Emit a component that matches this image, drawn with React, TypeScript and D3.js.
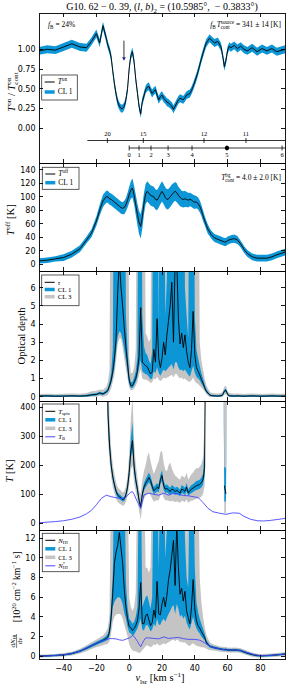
import React from "react";
import * as d3 from "d3";

const W = 287;
const H = 688;
const X0 = 39;
const X1 = 285;
const SERIF = '"Liberation Serif", "DejaVu Serif", serif';
const SANS = '"DejaVu Sans", sans-serif';
const BLUE = "#0d96d6";
const GRAY = "#c4c4c4";
const TBLUE = "#4646ff";
const NA = null;

// velocity grid, km/s
const V = [
  -55, -50, -45, -40, -35, -30, -26, -23, -20, -18, -16, -14,
  -13, -12, -11, -10, -9, -8, -7, -6, -5, -4,
  -3, -2, -1, 0, 1, 2, 3, 4, 5, 6,
  7, 8, 9, 10, 11, 12, 13, 14, 15, 16,
  17, 18, 19, 20, 21, 22, 23, 24, 25, 26,
  27, 28, 29, 30, 31, 32, 33, 34, 35, 36,
  37, 38, 39, 40, 41, 42, 43, 44, 45, 46,
  47, 48, 49, 50,
  52, 54, 56, 57, 58, 59, 60, 61, 62, 64,
  66, 68, 70, 72, 75, 78, 81, 84, 87, 90, 95,
];

// panel 1: T_on / T_on_cont
const TON = [
  0.98, 1.0, 0.99, 1.03, 1.07, 1.03, 1.02, 1.1, 1.2, 1.08, 1.3, 1.14,
  1.05, 0.99, 0.9, 0.72, 0.56, 0.43, 0.33, 0.28, 0.25, 0.25,
  0.28, 0.36, 0.5, 0.76, 0.92, 0.97, 0.84, 0.62, 0.45, 0.28,
  0.18, 0.34, 0.41, 0.49, 0.52, 0.53, 0.48, 0.44, 0.47, 0.49,
  0.42, 0.36, 0.4, 0.42, 0.38, 0.36, 0.33, 0.32, 0.3, 0.28,
  0.24, 0.28, 0.32, 0.36, 0.38, 0.37, 0.36, 0.39, 0.42, 0.43,
  0.44, 0.48, 0.53, 0.59, 0.65, 0.72, 0.8, 0.88, 0.95, 1.02,
  1.08, 1.11, 1.14, 1.12,
  1.08, 1.1, 1.03, 0.92, 0.78, 0.86, 0.99, 1.04, 1.02, 1.05,
  1.01, 1.04, 1.0, 0.98, 1.02, 0.97, 1.01, 0.98, 1.01, 0.97, 1.0,
];
const TON_ERR = 0.05;

// panel 2: T_off
const TOFF = [
  5, 6, 8, 10, 15, 23, 36, 46, 64, 80, 94, 100,
  100, 97, 96, 94, 92, 90, 88, 86, 84, 83,
  84, 88, 95, 103, 110, 113, 102, 88, 74, 62,
  56, 70, 90, 104, 108, 105, 102, 101, 100, 96,
  95, 99, 104, 108, 104, 99, 96, 97, 100, 103,
  106, 108, 106, 102, 99, 97, 96, 97, 96, 95,
  96, 95, 93, 92, 92, 90, 86, 80, 72, 65,
  58, 52, 48, 44,
  39, 37, 35, 34, 33, 33, 35, 36, 37, 38,
  36, 30, 22, 16, 11, 9, 9, 9, 11, 14, 18,
];
const TOFF_ERR = [
  4, 4, 4, 5, 5, 5, 5, 6, 7, 8, 9, 9,
  9, 9, 9, 9, 9, 9, 9, 9, 9, 9,
  10, 10, 11, 12, 13, 14, 14, 15, 16, 17,
  18, 17, 16, 15, 15, 15, 15, 15, 15, 15,
  15, 15, 15, 15, 15, 15, 15, 15, 15, 15,
  14, 14, 14, 13, 13, 12, 12, 12, 11, 11,
  10, 10, 10, 10, 9, 9, 9, 8, 8, 7,
  7, 7, 6, 6,
  6, 6, 6, 6, 6, 6, 6, 6, 6, 6,
  6, 5, 5, 5, 5, 5, 5, 5, 5, 5, 5,
];

// panel 3: optical depth
const TAU = [
  0.03, 0.04, 0.02, 0.03, 0.04, 0.03, 0.05, 0.1, 0.12, 0.2, 0.15, 0.25,
  0.35, 0.6, 0.9, 1.4, 2.1, 3.2, 5.8, 7.5, 6.0, 5.0,
  3.8, 2.7, 1.8, 0.9, 0.6, 0.6, 0.8, 1.0, 1.4, 2.2,
  4.9, 1.9, 1.8, 1.7, 1.65, 1.45, 1.25, 1.35, 2.6, 1.9,
  4.3, 2.1, 1.6, 2.1, 3.0, 2.3, 3.4, 4.2, 5.0, 6.3,
  3.0, 7.5, 7.5, 4.3, 2.9, 3.5, 2.7, 3.4, 2.5, 1.9,
  1.6, 2.6, 4.7, 2.3, 1.6, 1.4, 1.2, 0.95, 0.75, 0.5,
  0.3, 0.2, 0.1, 0.06,
  0.04, 0.03, 0.05, 0.1, 0.3, 0.35, 0.12, 0.05, 0.04, 0.03,
  0.04, 0.03, 0.02, 0.03, 0.04, 0.03, 0.02, 0.03, 0.04, 0.03, 0.03,
];
const TAU_LO1 = [
  0, 0, 0, 0, 0, 0, 0, 0.04, 0.06, 0.13, 0.08, 0.18,
  0.26, 0.48, 0.72, 1.1, 1.6, 2.5, 3.3, 3.6, 3.5, 3.1,
  2.6, 2.0, 1.35, 0.7, 0.47, 0.47, 0.62, 0.8, 1.1, 1.6,
  2.0, 1.4, 1.3, 1.25, 1.2, 1.1, 0.95, 1.0, 1.4, 1.3,
  1.6, 1.3, 1.15, 1.35, 1.5, 1.4, 1.5, 1.6, 1.7, 1.8,
  1.5, 1.9, 1.9, 1.6, 1.45, 1.5, 1.4, 1.5, 1.35, 1.2,
  1.1, 1.4, 1.7, 1.3, 1.1, 1.0, 0.9, 0.72, 0.58, 0.4,
  0.23, 0.14, 0.06, 0.02,
  0, 0, 0.01, 0.05, 0.22, 0.27, 0.07, 0.01, 0, 0,
  0, 0, 0, 0, 0, 0, 0, 0, 0, 0, 0,
];
const TAU_HI1 = [
  0.08, 0.09, 0.07, 0.08, 0.09, 0.08, 0.1, 0.16, 0.18, 0.27, 0.22, 0.35,
  0.48, 0.8, 1.3, 2.6, 20, 20, 20, 20, 20, 20,
  20, 4.5, 2.6, 1.25, 0.8, 0.8, 1.05, 1.4, 2.2, 20,
  20, 4.5, 2.8, 2.4, 2.3, 2.0, 1.8, 2.5, 20, 20,
  20, 3.8, 20, 20, 20, 4.5, 6.5, 20, 20, 20,
  20, 20, 20, 20, 20, 20, 20, 6.0, 4.5, 3.2,
  20, 20, 20, 4.5, 2.6, 2.1, 1.7, 1.3, 1.0, 0.68,
  0.42, 0.28, 0.16, 0.11,
  0.09, 0.08, 0.1, 0.16, 0.4, 0.45, 0.18, 0.1, 0.09, 0.08,
  0.09, 0.08, 0.07, 0.08, 0.09, 0.08, 0.07, 0.08, 0.09, 0.08, 0.08,
];
const TAU_LO3 = [
  -0.02, -0.02, -0.02, -0.02, -0.02, -0.02, -0.02, 0, 0, 0.03, 0, 0.05,
  0.1, 0.25, 0.45, 0.8, 1.2, 2.0, 2.9, 3.2, 3.2, 2.7,
  2.1, 1.5, 1.0, 0.5, 0.35, 0.35, 0.45, 0.6, 0.8, 1.2,
  1.5, 1.0, 0.95, 0.95, 0.9, 0.85, 0.75, 0.8, 1.0, 0.95,
  1.1, 0.95, 0.85, 0.95, 1.05, 1.0, 1.05, 1.1, 1.15, 1.2,
  1.05, 1.25, 1.25, 1.1, 1.0, 1.05, 0.95, 1.0, 0.9, 0.85,
  0.8, 0.9, 1.05, 0.85, 0.75, 0.7, 0.6, 0.5, 0.4, 0.28,
  0.15, 0.05, -0.02, -0.02,
  -0.02, -0.02, -0.02, 0, 0.1, 0.14, 0, -0.02, -0.02, -0.02,
  -0.02, -0.02, -0.02, -0.02, -0.02, -0.02, -0.02, -0.02, -0.02, -0.02, -0.02,
];
const TAU_HI3 = [
  0.15, 0.16, 0.15, 0.16, 0.17, 0.16, 0.2, 0.3, 0.32, 0.4, 0.38, 0.55,
  0.8, 1.5, 20, 20, 20, 20, 20, 20, 20, 20,
  20, 20, 20, 2.2, 1.3, 1.3, 1.6, 2.6, 20, 20,
  20, 20, 20, 3.5, 3.3, 3.0, 3.2, 20, 20, 20,
  20, 20, 20, 20, 20, 20, 20, 20, 20, 20,
  20, 20, 20, 20, 20, 20, 20, 20, 8, 20,
  20, 20, 20, 20, 20, 20, 3.0, 2.0, 1.5, 1.0,
  0.65, 0.45, 0.3, 0.22,
  0.18, 0.17, 0.2, 0.28, 0.55, 0.6, 0.3, 0.2, 0.18, 0.16,
  0.17, 0.16, 0.15, 0.16, 0.17, 0.16, 0.15, 0.16, 0.17, 0.16, 0.16,
];

// panel 4: spin temperature (999 = off the top of the axis)
const TSPIN = [
  NA, NA, NA, NA, NA, NA, NA, NA, NA, NA, NA, 999,
  380, 270, 200, 160, 133, 110, 97, 92, 88, 82,
  84, 98, 125, 175, 250, 285, 195, 150, 118, 80,
  57, 100, 125, 138, 147, 158, 148, 128, 112, 118,
  124, 120, 150, 165, 130, 118, 120, 115, 110, 118,
  115, 110, 113, 110, 104, 118, 115, 110, 125, 105,
  113, 118, 122, 126, 130, 132, 134, 140, 150, 190,
  999, NA, NA, NA,
  NA, NA, NA, NA, 130, 102, NA, NA, NA, NA,
  NA, NA, NA, NA, NA, NA, NA, NA, NA, NA, NA,
];
const TS_LO1 = [
  NA, NA, NA, NA, NA, NA, NA, NA, NA, NA, NA, 999,
  340, 245, 185, 148, 123, 101, 88, 84, 80, 75,
  77, 90, 114, 158, 225, 250, 175, 135, 105, 70,
  47, 88, 112, 124, 132, 142, 133, 115, 100, 105,
  110, 107, 134, 148, 116, 105, 107, 102, 98, 105,
  102, 98, 100, 98, 93, 105, 102, 98, 111, 94,
  100, 105, 108, 112, 115, 117, 119, 124, 133, 165,
  999, NA, NA, NA,
  NA, NA, NA, 999, 75, 75, 999, NA, NA, NA,
  NA, NA, NA, NA, NA, NA, NA, NA, NA, NA, NA,
];
const TS_HI1 = [
  NA, NA, NA, NA, NA, NA, NA, NA, NA, NA, NA, 999,
  450, 300, 218, 172, 143, 120, 106, 100, 96, 90,
  92, 107, 138, 196, 290, 350, 220, 165, 130, 90,
  68, 112, 138, 153, 163, 175, 164, 142, 125, 132,
  138, 134, 168, 183, 146, 132, 134, 128, 123, 132,
  128, 123, 126, 123, 116, 132, 128, 123, 139, 117,
  126, 132, 136, 141, 146, 148, 150, 158, 170, 280,
  999, NA, NA, NA,
  NA, NA, NA, 999, 195, 190, 999, NA, NA, NA,
  NA, NA, NA, NA, NA, NA, NA, NA, NA, NA, NA,
];
const TS_LO3 = [
  NA, NA, NA, NA, NA, NA, NA, NA, NA, NA, NA, 999,
  290, 215, 160, 125, 103, 85, 74, 68, 65, 61,
  63, 74, 95, 130, 185, 200, 140, 110, 80, 45,
  12, 60, 85, 95, 100, 105, 98, 85, 75, 78,
  80, 80, 95, 105, 88, 80, 80, 78, 75, 78,
  76, 74, 75, 74, 70, 78, 76, 74, 82, 70,
  75, 78, 80, 82, 85, 86, 88, 92, 100, 130,
  999, NA, NA, NA,
  NA, NA, NA, 999, 35, 35, 999, NA, NA, NA,
  NA, NA, NA, NA, NA, NA, NA, NA, NA, NA, NA,
];
const TS_HI3 = [
  NA, NA, NA, NA, NA, NA, NA, NA, NA, NA, NA, 999,
  600, 360, 255, 205, 170, 142, 125, 118, 113, 106,
  110, 128, 165, 240, 360, 440, 280, 205, 160, 115,
  100, 150, 180, 200, 230, 245, 215, 190, 170, 185,
  200, 215, 245, 250, 210, 185, 180, 200, 210, 190,
  175, 165, 160, 155, 150, 165, 160, 158, 175, 150,
  160, 170, 175, 185, 190, 190, 195, 205, 225, 360,
  999, NA, NA, NA,
  NA, NA, NA, 999, 999, 999, 999, NA, NA, NA,
  NA, NA, NA, NA, NA, NA, NA, NA, NA, NA, NA,
];
const TB_V = [
  -55, -50, -45, -40, -35, -30, -26, -23, -20, -17,
  -14, -11, -8, -5, -3, -1, 1, 2, 3, 5,
  7, 9, 12, 15, 18, 21, 24, 27, 30, 33,
  36, 39, 42, 45, 48, 51, 55, 59, 63, 67,
  70, 74, 78, 82, 86, 90, 95,
];
const TB = [
  2, 4, 6, 9, 14, 22, 33, 45, 64, 86,
  97, 92, 88, 86, 86, 96, 108, 109, 100, 74,
  52, 98, 104, 100, 97, 104, 97, 104, 101, 96,
  95, 92, 89, 72, 52, 40, 35, 31, 36, 35,
  24, 14, 9, 8, 10, 13, 17,
];

// panel 5: column density per velocity, 1e20 cm^-2 (km/s)^-1
const NHI = [
  0.0, 0.02, 0.06, 0.12, 0.25, 0.5, 0.8, 1.05, 1.3, 1.45, 1.6, 1.8,
  1.95, 2.5, 4.0, 6.5, 9.5, 10.6, 11.3, 12.6, 11.0, 9.5,
  6.8, 5.0, 3.8, 3.0, 2.9, 2.6, 2.8, 3.1, 3.6, 4.8,
  7.5, 3.3, 3.3, 4.1, 4.3, 3.7, 3.1, 3.4, 4.7, 3.9,
  7.6, 4.3, 4.2, 5.3, 6.0, 5.0, 6.2, 7.8, 8.8, 10.3,
  11.8, 7.2, 13.5, 9.0, 6.3, 6.9, 5.6, 6.6, 4.6, 3.9,
  3.3, 5.0, 7.8, 4.8, 3.6, 3.1, 2.85, 2.5, 2.2, 1.9,
  1.4, 1.2, 1.0, 0.95,
  0.85, 0.78, 0.7, 0.68, 0.65, 0.68, 0.6, 0.62, 0.6, 0.62,
  0.6, 0.55, 0.42, 0.3, 0.15, 0.05, 0.03, 0.05, 0.08, 0.12, 0.2,
];
const NHI_LO1 = [
  -0.08, -0.06, -0.03, 0.03, 0.15, 0.38, 0.66, 0.9, 1.13, 1.27, 1.4, 1.55,
  1.65, 2.1, 3.2, 5.0, 5.5, 5.8, 6.0, 6.0, 5.8, 5.3,
  4.4, 3.8, 3.0, 2.4, 2.3, 2.1, 2.2, 2.5, 2.8, 3.3,
  3.8, 2.7, 2.6, 3.1, 3.2, 2.9, 2.5, 2.7, 3.3, 3.0,
  3.8, 3.2, 3.2, 3.6, 3.8, 3.5, 3.9, 4.3, 4.6, 5.0,
  5.2, 4.3, 5.3, 4.8, 4.0, 4.2, 3.8, 4.1, 3.4, 3.0,
  2.7, 3.4, 4.0, 3.3, 2.8, 2.5, 2.3, 2.0, 1.8, 1.6,
  1.2, 1.05, 0.88, 0.83,
  0.73, 0.66, 0.58, 0.56, 0.53, 0.56, 0.48, 0.5, 0.48, 0.5,
  0.48, 0.43, 0.3, 0.19, 0.05, -0.04, -0.06, -0.04, -0.01, 0.03, 0.1,
];
const NHI_HI1 = [
  0.08, 0.1, 0.15, 0.22, 0.35, 0.62, 0.95, 1.2, 1.47, 1.63, 1.8, 2.05,
  2.3, 3.0, 5.0, 8.5, 20, 20, 20, 20, 20, 20,
  20, 7.5, 5.0, 3.8, 3.6, 3.3, 3.5, 4.0, 5.0, 20,
  20, 5.0, 5.5, 6.0, 6.2, 5.5, 4.8, 6.0, 20, 20,
  20, 9, 20, 20, 20, 10, 13, 20, 20, 20,
  20, 20, 20, 20, 20, 20, 20, 12, 8, 7,
  20, 20, 20, 9, 5.5, 4.5, 3.8, 3.3, 2.8, 2.3,
  1.65, 1.4, 1.15, 1.08,
  0.97, 0.9, 0.82, 0.8, 0.77, 0.8, 0.72, 0.74, 0.72, 0.74,
  0.72, 0.67, 0.54, 0.41, 0.25, 0.14, 0.12, 0.14, 0.17, 0.21, 0.3,
];
const NHI_LO3 = [
  -0.15, -0.13, -0.1, -0.05, 0.05, 0.25, 0.5, 0.72, 0.9, 1.0, 1.1, 1.2,
  1.25, 1.5, 2.3, 3.5, 4.0, 4.2, 4.3, 4.3, 4.2, 3.8,
  3.2, 2.6, 2.0, 1.2, 0.8, 0.6, 0.5, 0.5, 0.4, 0.3,
  0.4, 0.6, 0.8, 1.0, 1.1, 1.0, 0.9, 1.0, 1.2, 1.1,
  1.3, 1.1, 1.1, 1.2, 1.3, 1.2, 1.3, 1.4, 1.5, 1.6,
  1.7, 1.5, 1.7, 1.6, 1.4, 1.45, 1.35, 1.4, 1.2, 1.1,
  1.0, 1.2, 1.3, 1.15, 1.05, 1.0, 0.95, 0.9, 0.9, 0.85,
  0.75, 0.7, 0.6, 0.6,
  0.55, 0.5, 0.45, 0.42, 0.4, 0.42, 0.35, 0.37, 0.35, 0.37,
  0.35, 0.3, 0.18, 0.07, -0.06, -0.14, -0.15, -0.13, -0.1, -0.06, 0.0,
];
const NHI_HI3 = [
  0.15, 0.17, 0.22, 0.3, 0.45, 0.75, 1.1, 1.4, 1.7, 1.9, 2.1, 2.5,
  2.9, 4.2, 20, 20, 20, 20, 20, 20, 20, 20,
  20, 20, 20, 6, 5, 4.6, 5.0, 6.5, 20, 20,
  20, 20, 20, 9, 9, 8.5, 9, 20, 20, 20,
  20, 20, 20, 20, 20, 20, 20, 20, 20, 20,
  20, 20, 20, 20, 20, 20, 20, 20, 12, 20,
  20, 20, 20, 20, 20, 20, 8, 5.5, 4.0, 3.0,
  2.2, 1.8, 1.45, 1.3,
  1.15, 1.05, 0.95, 0.95, 0.92, 0.95, 0.85, 0.87, 0.85, 0.87,
  0.85, 0.8, 0.66, 0.53, 0.36, 0.24, 0.21, 0.23, 0.26, 0.3, 0.4,
];
const NSTAR_V = [
  -55, -50, -45, -40, -35, -30, -26, -23, -20, -17,
  -14, -12, -10, -8, -6, -4, -2, 0, 1, 2,
  3, 4, 5, 6, 7, 8, 9, 10, 12, 15,
  18, 21, 24, 27, 30, 33, 36, 40, 43, 46,
  49, 52, 56, 60, 64, 68, 72, 76, 80, 85,
  90, 95,
];
const NSTAR = [
  0.0, 0.02, 0.06, 0.12, 0.25, 0.5, 0.8, 1.05, 1.3, 1.5,
  1.68, 1.78, 1.78, 1.75, 1.65, 1.6, 1.72, 1.85, 1.95, 2.1,
  2.0, 1.75, 1.5, 1.2, 0.95, 1.3, 1.6, 1.85, 1.85, 1.8,
  1.75, 1.95, 1.8, 1.85, 1.9, 1.78, 1.7, 1.7, 1.62, 1.35,
  1.0, 0.85, 0.7, 0.6, 0.62, 0.58, 0.35, 0.15, 0.05, 0.05,
  0.12, 0.2,
];

// kinematic distance scales drawn in panel 1
const RGAL_LABELS = ["20", "15", "12", "11"];
const RGAL_V = [-13.3, 8.6, 45.6, 71.2];
const RGAL_START = -25.5;
const DIST_LABELS = ["0", "1", "2", "3", "4", "5", "6"];
const DIST_V = [0, 6, 13.3, 23.7, 38.3, 59.6, 93.2];
const DIST_MARK = 5;
const ARROW_V = -3.2;
const ARROW_FROM = 1.11;
const ARROW_TO = 0.855;

const V_TICKS = [-40, -20, 0, 20, 40, 60, 80];
const TON_TICKS = [0, 0.25, 0.5, 0.75, 1.0];
const TOFF_TICKS = [0, 20, 40, 60, 80, 100, 120, 140];
const TAU_TICKS = [0, 1, 2, 3, 4, 5, 6];
const TS_TICKS = [0, 100, 200, 300, 400];
const NHI_TICKS = [0, 2, 4, 6, 8, 10, 12];

const PANELS = [
  { top: 13, bottom: 163, dom: [-0.44, 1.46], ticks: TON_TICKS, fmt: (d: number) => d.toFixed(2) },
  { top: 163, bottom: 271, dom: [-10, 150], ticks: TOFF_TICKS, fmt: (d: number) => String(d) },
  { top: 271, bottom: 401, dom: [-0.24, 6.92], ticks: TAU_TICKS, fmt: (d: number) => String(d) },
  { top: 401, bottom: 530, dom: [-23, 422], ticks: TS_TICKS, fmt: (d: number) => String(d) },
  { top: 530, bottom: 659, dom: [-0.3, 12.85], ticks: NHI_TICKS, fmt: (d: number) => String(d) },
];

type Seg = { t: string; i?: boolean; s?: "sup" | "sub"; dx?: number };

function MText({ segs, size, x, y, anchor = "start", transform, subShift = 0.25 }: any) {
  let cur = 0;
  const kids = segs.map((g: Seg, k: number) => {
    const target = g.s === "sup" ? -0.4 * size : g.s === "sub" ? subShift * size : 0;
    const dy = target - cur;
    cur = target;
    return (
      <tspan key={k} dy={dy} dx={g.dx} fontStyle={g.i ? "italic" : "normal"} fontSize={g.s ? size * 0.68 : size}>
        {g.t}
      </tspan>
    );
  });
  return (
    <text x={x} y={y} fontSize={size} fontFamily={SERIF} textAnchor={anchor} transform={transform} style={{ whiteSpace: "pre" }}>
      {kids}
    </text>
  );
}

function Legend({ x0, y0, w, h, rows, size = 7.5 }: any) {
  return (
    <g>
      <rect x={x0} y={y0} width={w} height={h} fill="#fff" stroke="#333" strokeWidth={0.8} />
      {rows.map((r: any, k: number) => (
        <g key={k}>
          <line x1={x0 + 3} x2={x0 + 13} y1={r.y} y2={r.y} stroke={r.color} strokeWidth={r.w} />
          <MText x={x0 + 16} y={r.y + 2.2} size={size} subShift={0.18} segs={r.label} />
        </g>
      ))}
    </g>
  );
}

export default function App() {
  const x = d3.scaleLinear().domain([-55, 95]).range([X0, X1]);
  const ys = PANELS.map((p) => d3.scaleLinear().domain(p.dom).range([p.bottom, p.top]));
  const [y1, y2, y3, y4, y5] = ys;

  const line = (y: any, vals: (number | null)[], vs: number[] = V) =>
    d3
      .line<number>()
      .defined((i) => vals[i] != null)
      .x((i) => x(vs[i]))
      .y((i) => y(vals[i] as number))(d3.range(vs.length)) || "";
  const area = (y: any, lo: (number | null)[], hi: (number | null)[], vs: number[] = V) =>
    d3
      .area<number>()
      .defined((i) => lo[i] != null && hi[i] != null)
      .x((i) => x(vs[i]))
      .y0((i) => y(lo[i] as number))
      .y1((i) => y(hi[i] as number))(d3.range(vs.length)) || "";

  const tonLo = TON.map((v) => v - TON_ERR);
  const tonHi = TON.map((v) => v + TON_ERR);
  const toffLo = TOFF.map((v, i) => v - TOFF_ERR[i]);
  const toffHi = TOFF.map((v, i) => v + TOFF_ERR[i]);

  const ax = x(ARROW_V);

  return (
    <svg width={W} height={H} style={{ position: "absolute", left: 0, top: 0 }}>
      <defs>
        {PANELS.map((p, k) => (
          <clipPath id={`clip${k}`} key={k}>
            <rect x={X0} y={p.top} width={X1 - X0} height={p.bottom - p.top} />
          </clipPath>
        ))}
      </defs>
      <rect width={W} height={H} fill="#fff" />

      {/* panel 1 */}
      <g clipPath="url(#clip0)">
        <path d={area(y1, tonLo, tonHi)} fill={BLUE} />
        <path d={line(y1, TON)} fill="none" stroke="#000" strokeWidth={0.9} />
      </g>
      <line x1={ax} x2={ax} y1={y1(ARROW_FROM)} y2={y1(ARROW_TO) - 3} stroke="#000" strokeWidth={0.8} />
      <path d={`M${ax - 1.8},${y1(ARROW_TO) - 3.5}L${ax + 1.8},${y1(ARROW_TO) - 3.5}L${ax},${y1(ARROW_TO)}Z`} fill="#1a1a9a" />
      <line x1={x(RGAL_START)} x2={X1} y1={140.5} y2={140.5} stroke="#000" strokeWidth={0.8} />
      {RGAL_V.map((v, k) => (
        <g key={k}>
          <line x1={x(v)} x2={x(v)} y1={138} y2={143} stroke="#000" strokeWidth={0.8} />
          <text x={x(v)} y={136} fontSize={6.5} fontFamily={SERIF} textAnchor="middle">{RGAL_LABELS[k]}</text>
        </g>
      ))}
      <line x1={x(0)} x2={X1} y1={148} y2={148} stroke="#000" strokeWidth={0.8} />
      {DIST_V.map((v, k) => (
        <g key={k}>
          <line x1={x(v)} x2={x(v)} y1={145.5} y2={150.5} stroke="#000" strokeWidth={0.8} />
          <text x={x(v)} y={157} fontSize={6.5} fontFamily={SERIF} textAnchor="middle">{DIST_LABELS[k]}</text>
        </g>
      ))}
      <circle cx={x(DIST_V[DIST_MARK])} cy={148} r={2.2} fill="#000" />
      <MText x={48} y={27} size={7.5} segs={[{ t: "f", i: true }, { t: "B", s: "sub" }, { t: " = 24%" }]} />
      <MText
        x={281}
        y={27}
        size={7.5}
        anchor="end"
        segs={[
          { t: "f", i: true },
          { t: "B", s: "sub" },
          { t: "T", i: true, dx: 1 },
          { t: "source", s: "sup" },
          { t: "cont", s: "sub", dx: -13.3 },
          { t: " = 341 ± 14 [K]", dx: 4.5 },
        ]}
      />
      <Legend
        x0={41.7}
        y0={75}
        w={35.6}
        h={25}
        rows={[
          { y: 82, color: "#000", w: 1, label: [{ t: "T", i: true }, { t: "on", s: "sup" }] },
          { y: 92, color: BLUE, w: 3.5, label: [{ t: "CL 1" }] },
        ]}
      />

      {/* panel 2 */}
      <g clipPath="url(#clip1)">
        <path d={area(y2, toffLo, toffHi)} fill={BLUE} />
        <path d={line(y2, TOFF)} fill="none" stroke="#000" strokeWidth={0.9} />
      </g>
      <MText
        x={281}
        y={180}
        size={7.5}
        anchor="end"
        segs={[
          { t: "T", i: true },
          { t: "bg", s: "sup" },
          { t: "cont", s: "sub", dx: -5.1 },
          { t: " = 4.0 ± 2.0 [K]" },
        ]}
      />
      <Legend
        x0={42.3}
        y0={167.3}
        w={36.7}
        h={22}
        rows={[
          { y: 174, color: "#000", w: 1, label: [{ t: "T", i: true }, { t: "off", s: "sup" }] },
          { y: 182.7, color: BLUE, w: 3.5, label: [{ t: "CL 1" }] },
        ]}
      />

      {/* panel 3 */}
      <g clipPath="url(#clip2)">
        <path d={area(y3, TAU_LO3, TAU_HI3)} fill={GRAY} />
        <path d={area(y3, TAU_LO1, TAU_HI1)} fill={BLUE} />
        <path d={line(y3, TAU)} fill="none" stroke="#000" strokeWidth={0.9} />
      </g>
      <Legend
        x0={41.7}
        y0={275}
        w={37.3}
        h={30.7}
        size={7}
        rows={[
          { y: 282.3, color: "#000", w: 1, label: [{ t: "τ", i: true }] },
          { y: 289.5, color: BLUE, w: 3.5, label: [{ t: "CL 1" }] },
          { y: 296.7, color: GRAY, w: 3.5, label: [{ t: "CL 3" }] },
        ]}
      />

      {/* panel 4 */}
      <g clipPath="url(#clip3)">
        <path d={area(y4, TS_LO3, TS_HI3)} fill={GRAY} />
        <path d={area(y4, TS_LO1, TS_HI1)} fill={BLUE} />
        <path d={line(y4, TSPIN)} fill="none" stroke="#000" strokeWidth={0.9} />
        <path d={line(y4, TB, TB_V)} fill="none" stroke={TBLUE} strokeWidth={0.9} />
      </g>
      <Legend
        x0={42.3}
        y0={404}
        w={36.7}
        h={39.3}
        size={6.8}
        rows={[
          { y: 411.3, color: "#000", w: 1, label: [{ t: "T", i: true }, { t: "spin", s: "sub" }] },
          { y: 419.8, color: BLUE, w: 3.5, label: [{ t: "CL 1" }] },
          { y: 428.3, color: GRAY, w: 3.5, label: [{ t: "CL 3" }] },
          { y: 436.8, color: TBLUE, w: 1, label: [{ t: "T", i: true }, { t: "B", s: "sub" }] },
        ]}
      />

      {/* panel 5 */}
      <g clipPath="url(#clip4)">
        <path d={area(y5, NHI_LO3, NHI_HI3)} fill={GRAY} />
        <path d={area(y5, NHI_LO1, NHI_HI1)} fill={BLUE} />
        <path d={line(y5, NHI)} fill="none" stroke="#000" strokeWidth={0.9} />
        <path d={line(y5, NSTAR, NSTAR_V)} fill="none" stroke={TBLUE} strokeWidth={0.9} />
      </g>
      <Legend
        x0={42.3}
        y0={533.3}
        w={36.7}
        h={38.4}
        size={6.8}
        rows={[
          { y: 540.3, color: "#000", w: 1, label: [{ t: "N", i: true }, { t: "HI", s: "sub" }] },
          { y: 548.8, color: BLUE, w: 3.5, label: [{ t: "CL 1" }] },
          { y: 557.3, color: GRAY, w: 3.5, label: [{ t: "CL 3" }] },
          { y: 565.8, color: TBLUE, w: 1, label: [{ t: "N", i: true }, { t: "*", s: "sup" }, { t: "HI", s: "sub", dx: -2.3 }] },
        ]}
      />

      {/* frames and ticks */}
      {PANELS.map((p, k) => (
        <g key={k} stroke="#000" strokeWidth={0.9} shapeRendering="crispEdges">
          <rect x={X0} y={p.top} width={X1 - X0} height={p.bottom - p.top} fill="none" />
          {V_TICKS.map((t) => (
            <g key={t}>
              <line x1={x(t)} x2={x(t)} y1={p.top} y2={p.top + 4} />
              <line x1={x(t)} x2={x(t)} y1={p.bottom} y2={p.bottom - 4} />
            </g>
          ))}
          {p.ticks.map((t) => (
            <g key={t}>
              <line x1={X0} x2={X0 + 4} y1={ys[k](t)} y2={ys[k](t)} />
              <line x1={X1} x2={X1 - 4} y1={ys[k](t)} y2={ys[k](t)} />
            </g>
          ))}
        </g>
      ))}
      {PANELS.map((p, k) =>
        p.ticks.map((t) => (
          <text key={`${k}-${t}`} x={35.5} y={ys[k](t) + 2.9} fontSize={8} fontFamily={SANS} textAnchor="end">
            {p.fmt(t)}
          </text>
        ))
      )}
      {V_TICKS.map((t) => (
        <text key={t} x={x(t)} y={670.5} fontSize={8} fontFamily={SANS} textAnchor="middle">
          {t < 0 ? `−${-t}` : String(t)}
        </text>
      ))}

      {/* axis labels */}
      <MText
        x={162}
        y={10}
        size={10}
        anchor="middle"
        segs={[
          { t: "G10. 62 − 0. 39, (" },
          { t: "l", i: true },
          { t: ", " },
          { t: "b", i: true },
          { t: ")" },
          { t: "2", s: "sub" },
          { t: " = (10.5985°,  − 0.3833°)" },
        ]}
      />
      <MText
        transform="translate(15,92) rotate(-90)"
        x={0}
        y={0}
        size={10.5}
        anchor="middle"
        segs={[
          { t: "T", i: true },
          { t: "on", s: "sup" },
          { t: " / " },
          { t: "T", i: true },
          { t: "on", s: "sup" },
          { t: "cont", s: "sub", dx: -7.1 },
        ]}
      />
      <MText
        transform="translate(14,220) rotate(-90)"
        x={0}
        y={0}
        size={10.5}
        anchor="middle"
        segs={[{ t: "T", i: true }, { t: "off", s: "sup" }, { t: " [K]" }]}
      />
      <MText transform="translate(24.5,336) rotate(-90)" x={0} y={0} size={10.5} anchor="middle" segs={[{ t: "Optical depth" }]} />
      <MText
        transform="translate(13,471) rotate(-90)"
        x={0}
        y={0}
        size={10.5}
        anchor="middle"
        segs={[{ t: "T", i: true }, { t: " [K]" }]}
      />
      <g transform="translate(16,598) rotate(-90)">
        <MText x={-43} y={-1.3} size={7} anchor="middle" segs={[{ t: "d" }, { t: "N", i: true }, { t: "HI", s: "sub" }]} />
        <line x1={-50} x2={-36} y1={0.6} y2={0.6} stroke="#000" strokeWidth={0.5} />
        <MText x={-43} y={6} size={7} anchor="middle" segs={[{ t: "d" }, { t: "v", i: true }]} />
        <MText
          x={11}
          y={3.5}
          size={9.5}
          anchor="middle"
          segs={[
            { t: "[10" },
            { t: "20", s: "sup" },
            { t: " cm" },
            { t: "−2", s: "sup" },
            { t: " km" },
            { t: "−1", s: "sup" },
            { t: " s]" },
          ]}
        />
      </g>
      <MText
        x={160}
        y={681}
        size={10.5}
        anchor="middle"
        segs={[{ t: "v", i: true }, { t: "lsr", s: "sub" }, { t: " [km s" }, { t: "−1", s: "sup" }, { t: "]" }]}
      />
    </svg>
  );
}
